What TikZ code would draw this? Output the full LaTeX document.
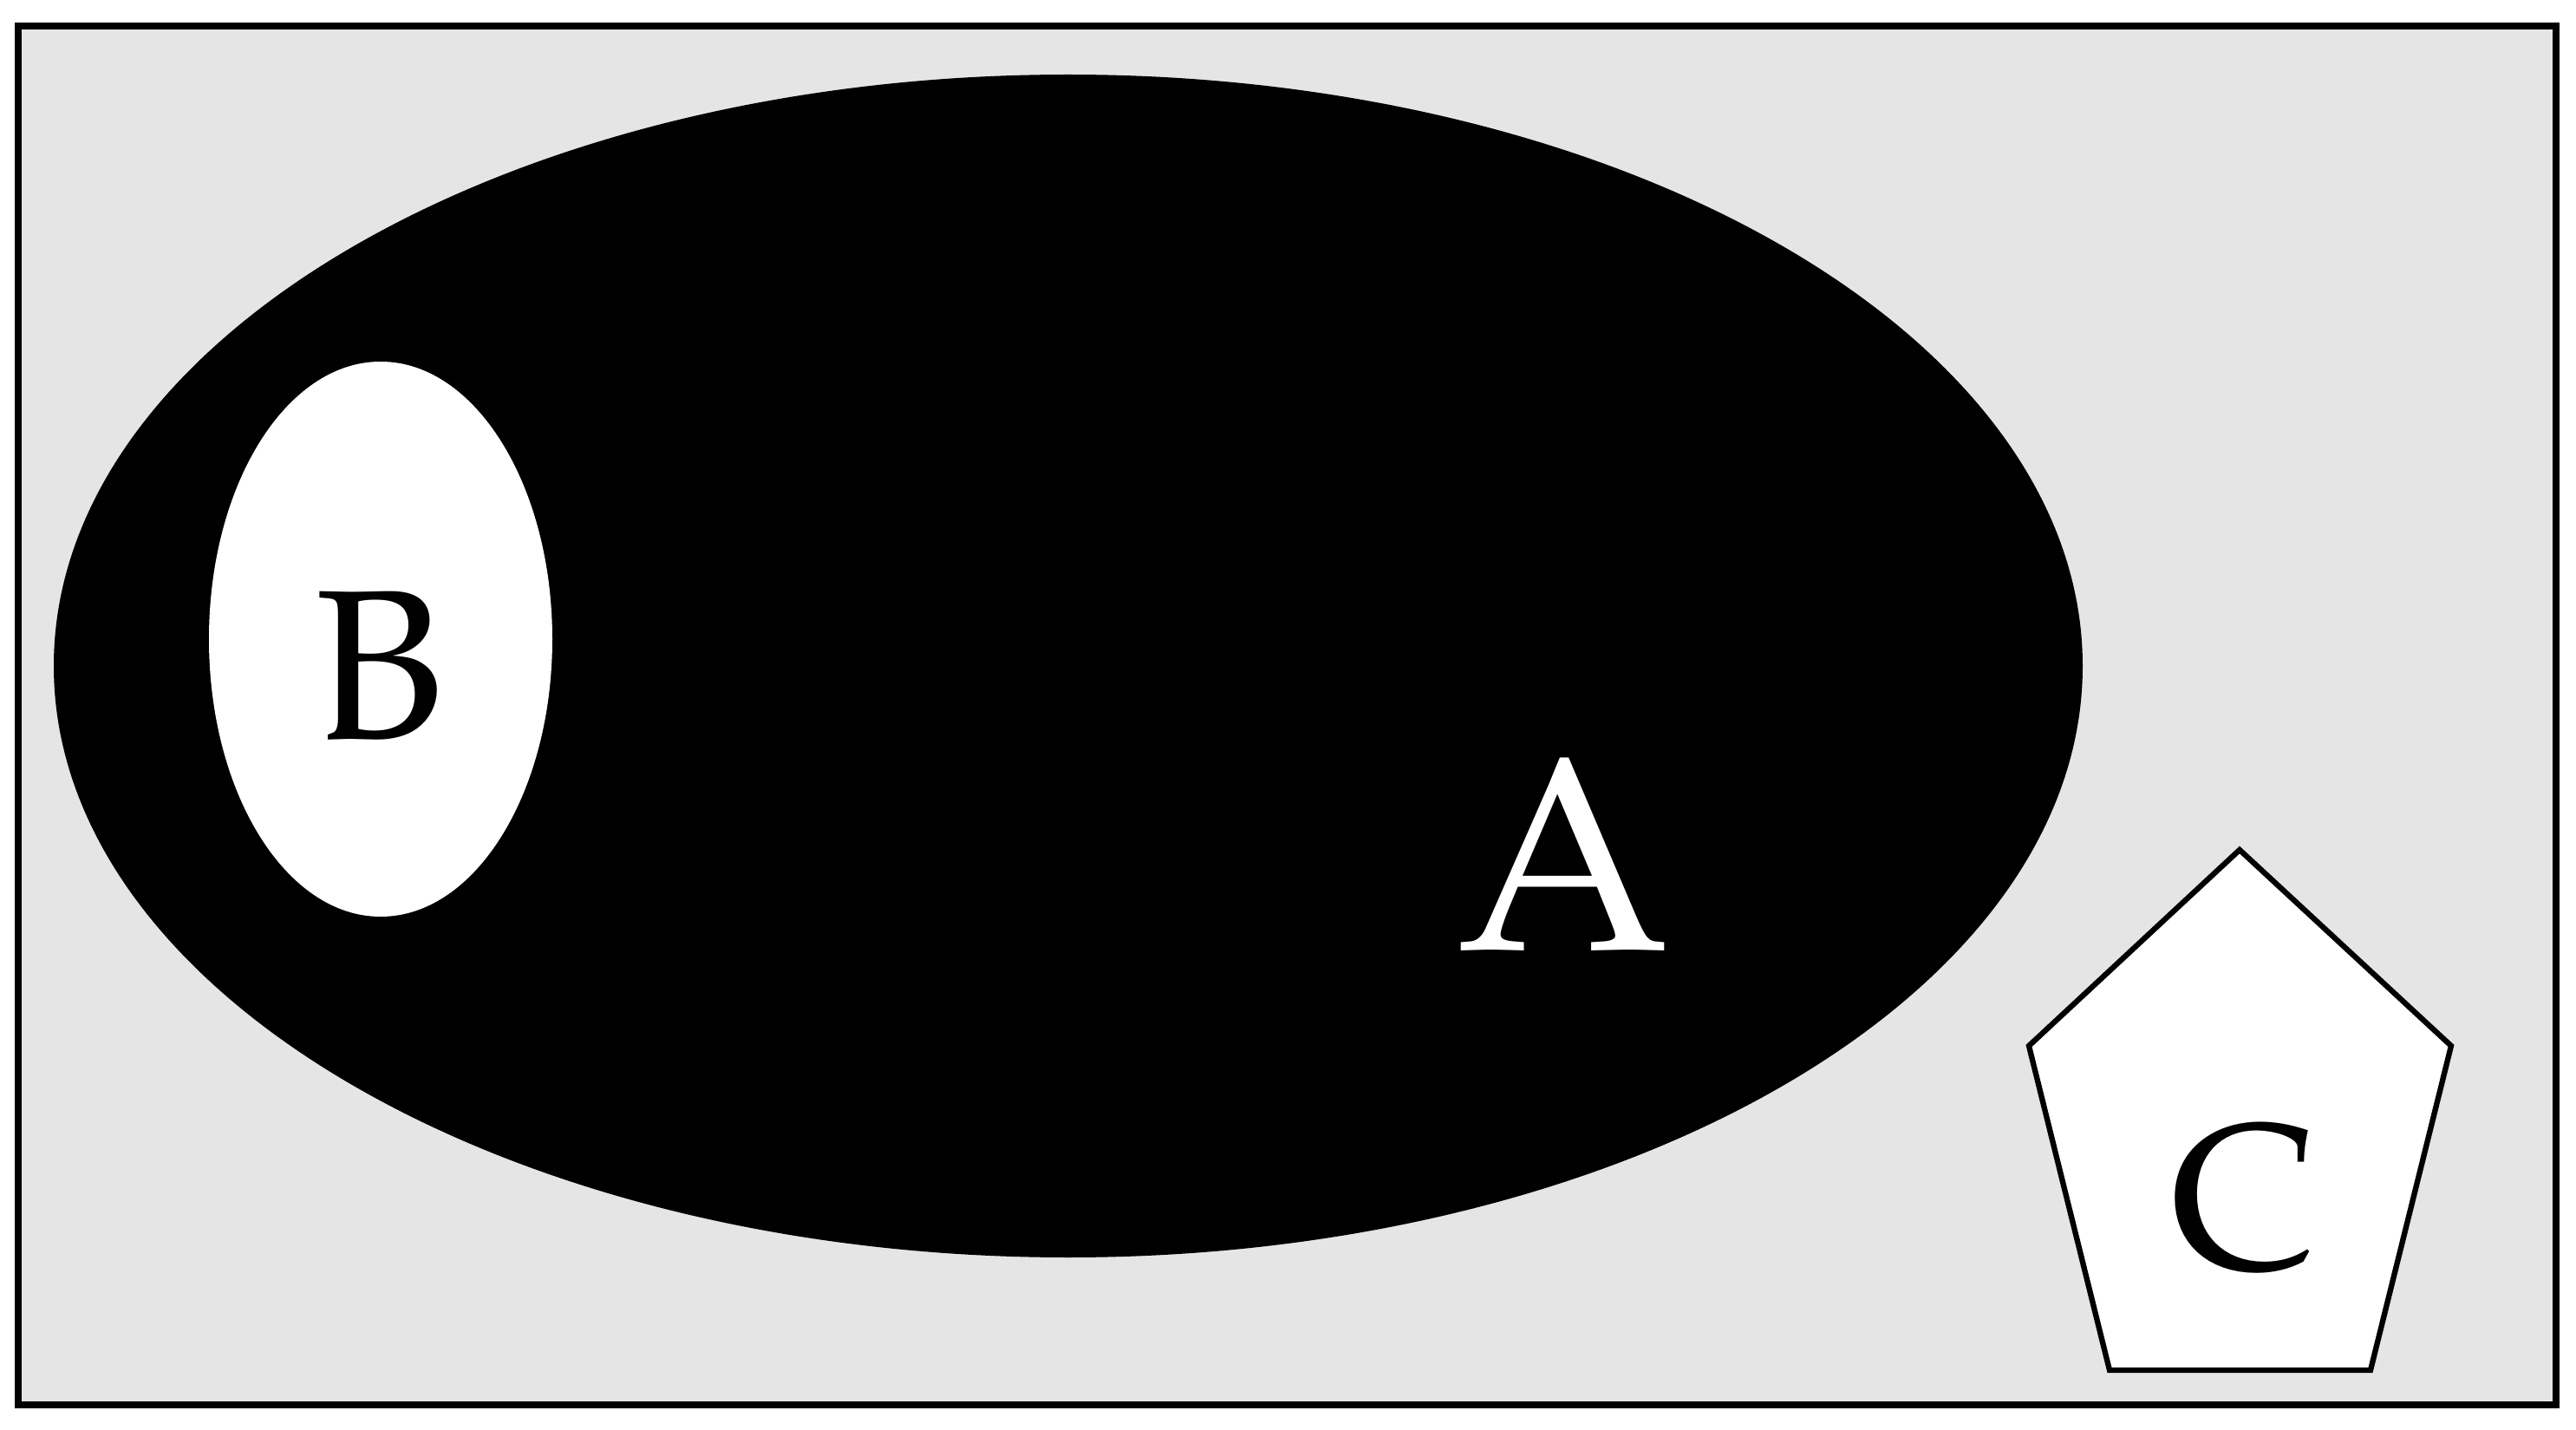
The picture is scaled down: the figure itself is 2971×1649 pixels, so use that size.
\documentclass[tikz,border=0pt]{standalone}
\usepackage[T1]{fontenc}
\renewcommand{\rmdefault}{ppl}
\begin{document}
\begin{tikzpicture}[x=0.01cm,y=-0.01cm,
  frame/.style={draw=black,line width=2.3pt,fill=black!10},
  bigset/.style={fill=black},
  subset/.style={fill=white},
  penta/.style={draw=black,line width=1.8pt,fill=white,line join=miter},
  lbl/.style={inner sep=0pt,anchor=base}]
\useasboundingbox (0,0) rectangle (2971,1649);
\draw[frame] (21,30) rectangle (2948,1620);
\fill[bigset] (1232,768) ellipse [x radius=1170, y radius=682];
\fill[subset] (439,737) ellipse [x radius=198, y radius=320];
\draw[penta] (2583,980) -- (2827,1206) -- (2734,1580) -- (2433,1580) -- (2340,1206) -- cycle;
\node[lbl,text=black] (B) at (438,853) {\fontsize{70}{80}\selectfont B};
\node[lbl,text=white] (A) at (1804,1095) {\fontsize{90}{100}\selectfont A};
\node[lbl,text=black] (C) at (2588,1463) {\fontsize{68}{78}\selectfont C};
\end{tikzpicture}
\end{document}
